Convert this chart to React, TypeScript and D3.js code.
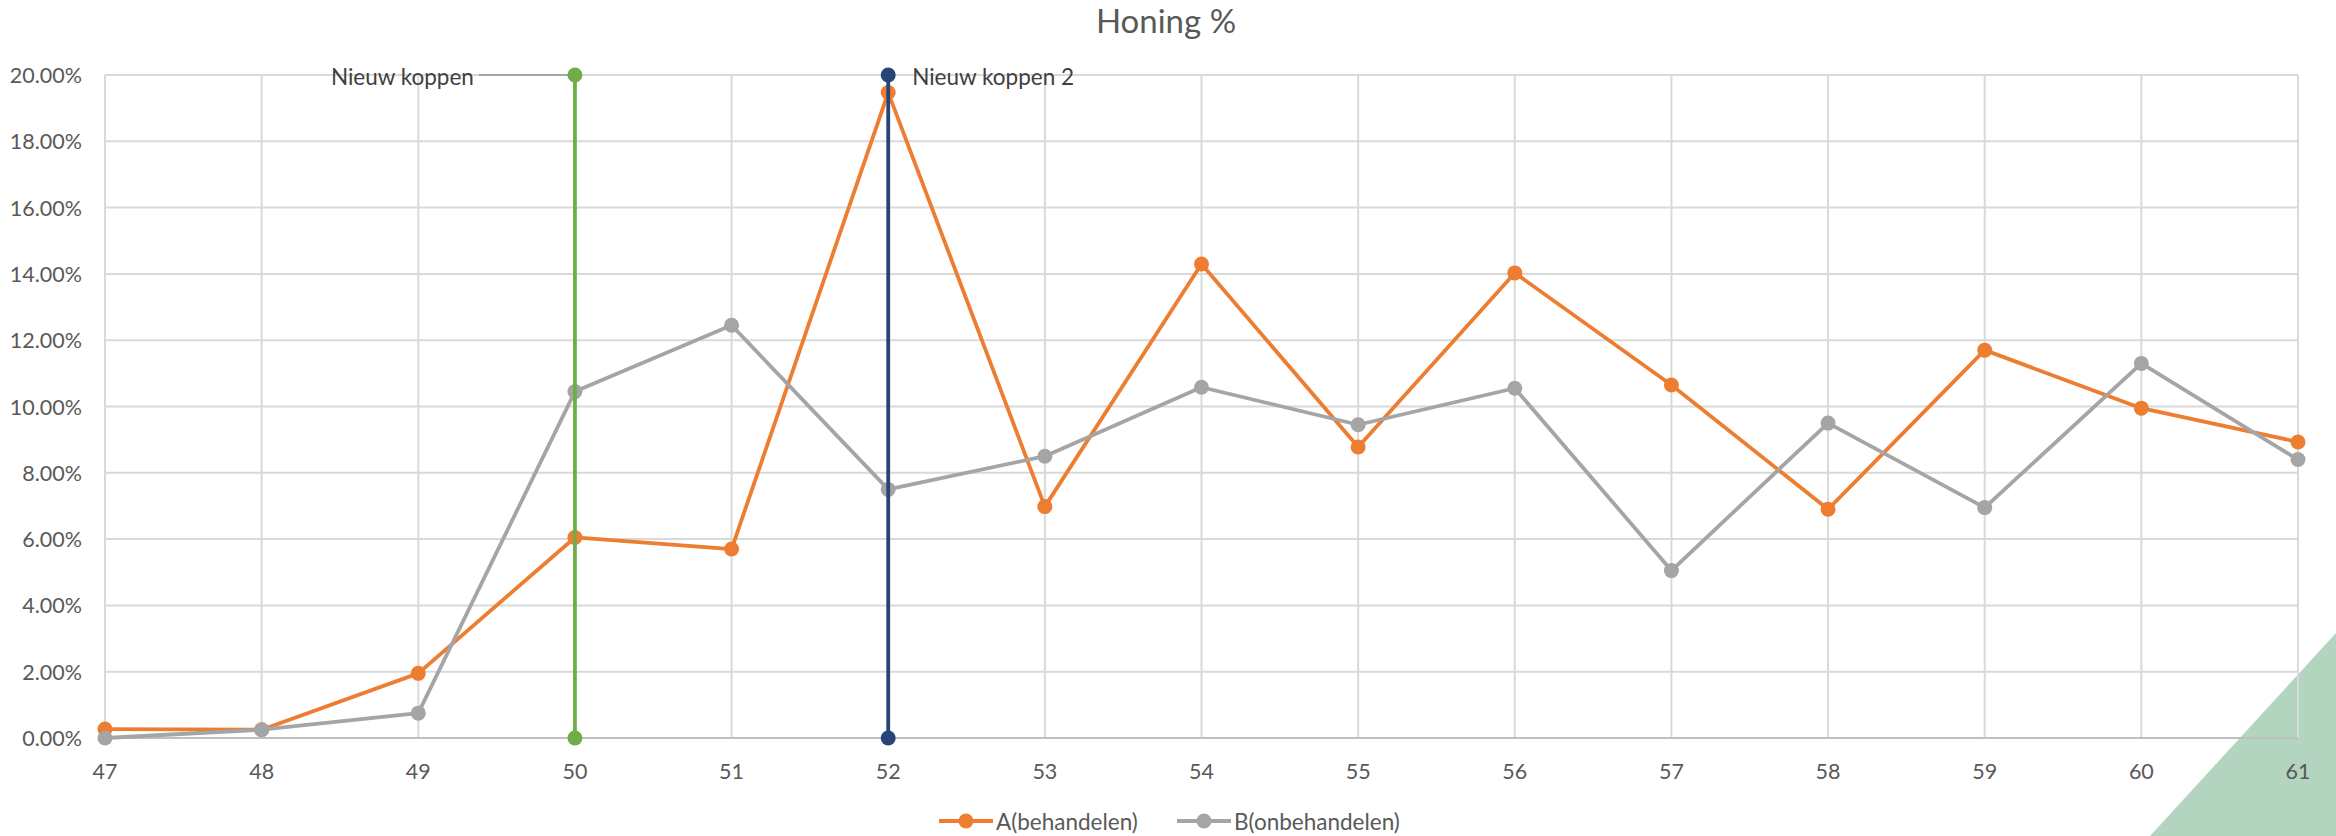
import React from "react";
import * as d3 from "d3";

// Weeks on the x axis
const weeks = [47, 48, 49, 50, 51, 52, 53, 54, 55, 56, 57, 58, 59, 60, 61];
// Honey share per week, in percent
const seriesA = [0.27, 0.25, 1.95, 6.05, 5.7, 19.47, 6.98, 14.3, 8.78, 14.03, 10.65, 6.9, 11.7, 9.95, 8.93];
const seriesB = [0.0, 0.25, 0.75, 10.45, 12.45, 7.5, 8.5, 10.58, 9.45, 10.55, 5.05, 9.5, 6.95, 11.3, 8.4];
const yTicks = [0, 2, 4, 6, 8, 10, 12, 14, 16, 18, 20];
// Vertical event markers: week, label
const events = [
  { week: 50, label: "Nieuw koppen", color: "#70AD47", side: "left" },
  { week: 52, label: "Nieuw koppen 2", color: "#264478", side: "right" },
];
const legendItems = [
  { name: "A(behandelen)", color: "#ED7D31" },
  { name: "B(onbehandelen)", color: "#A5A5A5" },
];

const W = 2336;
const H = 836;
const FONT = "Lato, 'Open Sans', sans-serif";
const TEXT = "#595959";

export default function App() {
  const x = d3.scaleLinear().domain([47, 61]).range([105, 2298]);
  const y = d3.scaleLinear().domain([0, 20]).range([738, 75]);
  const line = d3
    .line<number>()
    .x((_, i) => x(weeks[i]))
    .y((d) => y(d));

  const series = [
    { values: seriesA, color: "#ED7D31" },
    { values: seriesB, color: "#A5A5A5" },
  ];

  return (
    <svg
      width={W}
      height={H}
      style={{ position: "absolute", left: 0, top: 0, display: "block" }}
      fontFamily={FONT}
    >
      <rect width={W} height={H} fill="#ffffff" />
      {/* corner decoration */}
      <polygon points={`2150,${H} ${W},${H} ${W},633`} fill="#B3D5C0" />

      <text x={1166} y={20} textAnchor="middle" dominantBaseline="central" fontSize={33} fill={TEXT}>
        Honing %
      </text>

      {/* gridlines */}
      {yTicks.map((t) => (
        <line key={"gy" + t} x1={x(47)} x2={x(61)} y1={y(t)} y2={y(t)} stroke="#D9D9D9" strokeWidth={2} />
      ))}
      {weeks.map((w) => (
        <line key={"gx" + w} x1={x(w)} x2={x(w)} y1={y(0)} y2={y(20)} stroke="#D9D9D9" strokeWidth={2} />
      ))}
      <line x1={x(47)} x2={x(61)} y1={y(0)} y2={y(0)} stroke="#BFBFBF" strokeWidth={2} />

      {/* y labels */}
      {yTicks.map((t) => (
        <text key={"yl" + t} x={82} y={y(t)} textAnchor="end" dominantBaseline="central" fontSize={21.5} fill={TEXT}>
          {t.toFixed(2)}%
        </text>
      ))}
      {/* x labels */}
      {weeks.map((w) => (
        <text key={"xl" + w} x={x(w)} y={771} textAnchor="middle" dominantBaseline="central" fontSize={21.5} fill={TEXT}>
          {w}
        </text>
      ))}

      {/* data series */}
      {series.map((s, si) => (
        <g key={"s" + si}>
          <path d={line(s.values) || ""} fill="none" stroke={s.color} strokeWidth={3.8} strokeLinejoin="round" />
          {s.values.map((v, i) => (
            <circle key={i} cx={x(weeks[i])} cy={y(v)} r={7.5} fill={s.color} />
          ))}
        </g>
      ))}

      {/* event markers */}
      {events.map((e) => (
        <g key={"e" + e.week}>
          {e.side === "left" && (
            <line x1={x(e.week) - 96} x2={x(e.week)} y1={y(20)} y2={y(20)} stroke="#A6A6A6" strokeWidth={2} />
          )}
          <line x1={x(e.week)} x2={x(e.week)} y1={y(0)} y2={y(20)} stroke={e.color} strokeWidth={3.8} />
          <circle cx={x(e.week)} cy={y(0)} r={7.5} fill={e.color} />
          <circle cx={x(e.week)} cy={y(20)} r={7.5} fill={e.color} />
          <text
            x={e.side === "left" ? x(e.week) - 101 : x(e.week) + 24}
            y={y(20) + 1}
            textAnchor={e.side === "left" ? "end" : "start"}
            dominantBaseline="central"
            fontSize={22.5}
            fill="#404040"
          >
            {e.label}
          </text>
        </g>
      ))}

      {/* legend */}
      {legendItems.map((it, i) => {
        const lx = i === 0 ? 939 : 1177;
        return (
          <g key={"lg" + i}>
            <line x1={lx} x2={lx + 54} y1={821} y2={821} stroke={it.color} strokeWidth={3.8} />
            <circle cx={lx + 27} cy={821} r={7.5} fill={it.color} />
            <text x={lx + 57} y={821} dominantBaseline="central" fontSize={22.5} fill={TEXT}>
              {it.name}
            </text>
          </g>
        );
      })}
    </svg>
  );
}
